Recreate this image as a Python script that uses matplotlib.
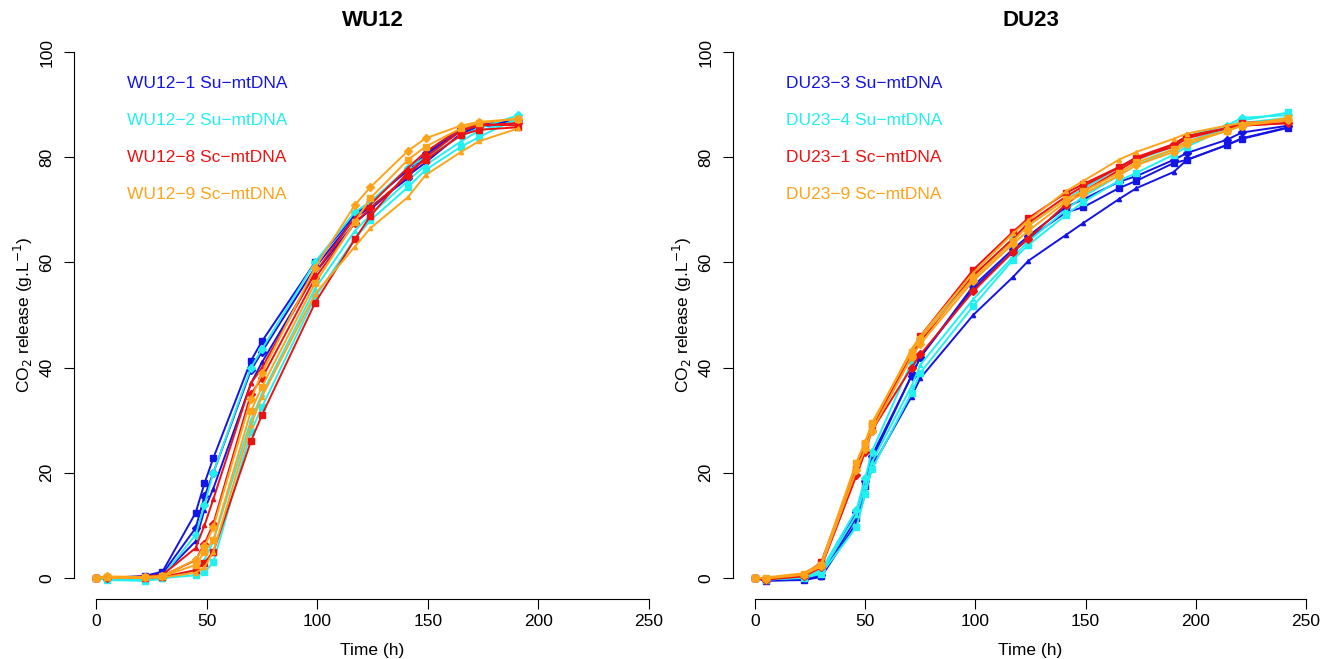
import numpy as np
import matplotlib.pyplot as plt

plt.rcParams['font.family'] = ['Liberation Sans', 'DejaVu Sans']

# sampling times (h)
t_wu12 = [0, 5, 22, 30, 45, 49, 53, 70, 75, 99, 117, 124, 141, 149, 165, 173, 191]
t_du23 = [0, 5, 22, 30, 46, 50, 53, 71, 75, 99, 117, 124, 141, 149, 165, 173,
          190, 196, 214, 221, 242]

# WU12 replicates (CO2 release, g/L)
wu12_1_a = [0.0, 0.0, 0.4, 1.2, 12.4, 18.0, 22.8, 41.3, 45.0, 60.0, 69.0, 71.5, 77.5, 80.5, 85.0, 86.0, 87.0]
wu12_1_b = [0.0, -0.1, 0.2, 0.8, 9.5, 15.5, 20.0, 39.5, 43.0, 59.0, 68.5, 70.5, 76.0, 80.8, 85.5, 86.2, 87.0]
wu12_1_c = [0.0, 0.0, 0.1, 0.5, 7.0, 13.0, 17.0, 37.0, 41.0, 58.0, 67.5, 70.0, 76.5, 79.0, 84.5, 85.8, 86.5]
wu12_2_a = [0.0, -0.3, -0.5, 0.0, 0.5, 1.1, 3.0, 27.8, 32.5, 53.4, 64.5, 68.0, 74.3, 77.6, 82.0, 83.8, 87.5]
wu12_2_b = [0.0, -0.2, -0.2, 0.3, 8.2, 13.9, 20.0, 40.0, 43.5, 60.0, 69.6, 71.5, 78.0, 80.0, 84.0, 85.5, 88.0]
wu12_2_c = [0.0, -0.4, -0.5, -0.2, 1.5, 3.5, 7.0, 30.0, 35.0, 55.0, 66.0, 69.0, 75.5, 78.5, 83.0, 85.0, 87.0]
wu12_8_a = [0.0, 0.1, 0.0, 0.2, 1.5, 2.9, 5.0, 26.0, 31.0, 52.3, 64.4, 68.8, 77.2, 79.5, 84.2, 85.2, 85.7]
wu12_8_b = [0.0, 0.0, 0.2, 0.4, 3.4, 6.5, 10.3, 35.0, 38.0, 57.0, 67.5, 70.3, 76.5, 80.0, 85.0, 86.0, 86.5]
wu12_8_c = [0.0, 0.0, 0.3, 0.6, 5.7, 10.0, 15.0, 37.0, 40.0, 58.0, 68.5, 71.0, 78.0, 81.0, 85.5, 86.3, 86.0]
wu12_9_a = [0.0, 0.2, 0.1, 0.3, 2.5, 5.0, 7.2, 31.7, 36.3, 56.0, 67.7, 72.2, 79.5, 82.0, 85.5, 86.5, 87.3]
wu12_9_b = [0.0, 0.3, 0.2, 0.4, 3.5, 6.0, 9.7, 34.0, 39.0, 59.0, 70.9, 74.3, 81.2, 83.6, 86.0, 86.7, 87.3]
wu12_9_c = [0.0, 0.0, 0.0, 0.1, 1.0, 2.0, 5.0, 29.0, 34.5, 54.0, 63.0, 66.5, 72.4, 76.6, 81.0, 83.0, 85.5]

# DU23 replicates
du23_3_a = [0, -0.5, -0.3, 0.3, 11.5, 17.5, 22.5, 38.5, 42.0, 55.0, 62.0, 64.5, 69.5, 70.5, 74.1, 75.5, 78.9, 79.5, 82.3, 83.5, 85.6]
du23_3_b = [0, -0.4, -0.2, 0.5, 12.5, 18.4, 23.2, 38.4, 42.0, 55.5, 62.5, 65.0, 70.5, 72.0, 75.3, 76.4, 79.5, 80.8, 83.3, 84.7, 86.0]
du23_3_c = [0, -0.5, -0.4, 0.2, 10.5, 16.0, 21.0, 34.5, 38.0, 50.0, 57.2, 60.3, 65.2, 67.5, 72.0, 74.1, 77.2, 79.5, 82.3, 83.6, 85.7]
du23_4_a = [0, -0.3, 0.0, 0.8, 9.7, 16.0, 20.7, 35.2, 39.0, 51.7, 60.5, 63.3, 69.0, 71.5, 75.5, 77.0, 80.5, 82.0, 85.5, 87.0, 88.5]
du23_4_b = [0, -0.2, 0.2, 1.5, 13.0, 19.0, 24.0, 41.0, 45.5, 57.5, 64.5, 67.0, 72.0, 74.0, 78.0, 79.5, 82.0, 84.0, 86.0, 87.5, 88.0]
du23_4_c = [0, -0.3, 0.1, 1.0, 12.0, 17.5, 22.0, 36.5, 40.5, 53.0, 61.0, 64.0, 70.0, 72.5, 76.5, 78.5, 81.5, 83.0, 85.5, 86.5, 87.5]
du23_1_a = [0, -0.2, 0.5, 3.0, 21.0, 25.5, 29.0, 42.5, 46.0, 58.6, 65.8, 68.4, 73.2, 74.9, 78.1, 79.8, 82.0, 83.6, 85.5, 86.5, 87.0]
du23_1_b = [0, -0.3, 0.3, 2.0, 19.5, 24.0, 28.0, 40.0, 42.5, 54.5, 62.0, 64.5, 71.0, 73.5, 77.5, 79.5, 82.5, 84.0, 85.5, 86.0, 86.5]
du23_1_c = [0, -0.2, 0.6, 2.5, 20.0, 25.0, 28.5, 42.0, 45.0, 57.5, 64.5, 67.5, 72.5, 74.5, 78.0, 80.0, 82.5, 84.0, 85.5, 86.0, 86.5]
du23_9_a = [0, 0.0, 0.8, 2.5, 21.9, 25.7, 29.5, 43.0, 45.5, 57.0, 64.0, 67.0, 72.0, 73.5, 77.0, 79.0, 81.5, 83.0, 85.0, 86.0, 87.5]
du23_9_b = [0, -0.1, 0.6, 2.2, 20.5, 24.5, 28.0, 42.0, 44.5, 56.5, 63.5, 66.0, 71.5, 73.0, 76.5, 78.5, 81.0, 82.5, 85.0, 86.0, 87.0]
du23_9_c = [0, 0.1, 0.9, 2.8, 22.0, 26.0, 29.0, 43.5, 46.0, 58.0, 65.5, 68.0, 73.5, 75.5, 79.5, 81.0, 83.5, 84.5, 86.0, 86.5, 87.0]

wu12_labels = ['WU12\u22121 Su\u2212mtDNA', 'WU12\u22122 Su\u2212mtDNA',
               'WU12\u22128 Sc\u2212mtDNA', 'WU12\u22129 Sc\u2212mtDNA']
du23_labels = ['DU23\u22123 Su\u2212mtDNA', 'DU23\u22124 Su\u2212mtDNA',
               'DU23\u22121 Sc\u2212mtDNA', 'DU23\u22129 Sc\u2212mtDNA']
colors = ['#1414E6', '#22F0F0', '#EE1111', '#FFA31A']
markers = [('s', 5), ('D', 4.5), ('^', 3)]

panels = [
    ('WU12', t_wu12, wu12_labels,
     [[wu12_1_a, wu12_1_b, wu12_1_c], [wu12_2_a, wu12_2_b, wu12_2_c],
      [wu12_8_a, wu12_8_b, wu12_8_c], [wu12_9_a, wu12_9_b, wu12_9_c]]),
    ('DU23', t_du23, du23_labels,
     [[du23_3_a, du23_3_b, du23_3_c], [du23_4_a, du23_4_b, du23_4_c],
      [du23_1_a, du23_1_b, du23_1_c], [du23_9_a, du23_9_b, du23_9_c]]),
]

fig = plt.figure(figsize=(13.34, 6.59), dpi=100)
axes_pos = [[0.0555, 0.091, 0.4475, 0.862], [0.5495, 0.091, 0.446, 0.862]]

for pos, (title, t, labels, groups) in zip(axes_pos, panels):
    ax = fig.add_axes(pos)
    for col, reps in zip(colors, groups):
        for (mk, ms), y in zip(markers, reps):
            ax.plot(t, y, color=col, lw=1.4, marker=mk, ms=ms, mec=col, mfc=col)
    for i, (lab, col) in enumerate(zip(labels, colors)):
        ax.text(14, 94.1 - 7.05 * i, lab, color=col, fontsize=12.5, va='center', ha='left')

    ax.set_xlim(-10, 260)
    ax.set_ylim(-4, 104)
    ax.set_xticks([0, 50, 100, 150, 200, 250])
    ax.set_yticks([0, 20, 40, 60, 80, 100])
    for s in ['top', 'right']:
        ax.spines[s].set_visible(False)
    ax.spines['bottom'].set_bounds(0, 250)
    ax.spines['left'].set_bounds(0, 100)
    ax.tick_params(direction='out', length=7, labelsize=12.5)
    ax.tick_params(axis='y', pad=7)
    plt.setp(ax.get_yticklabels(), rotation=90, va='center')
    ax.set_title(title, fontsize=16, fontweight='bold', pad=0)
    ax.set_xlabel('Time (h)', fontsize=12.5, labelpad=10)
    ax.set_ylabel('CO$_2$ release (g.L$^{-1}$)', fontsize=12.5, labelpad=3)

fig.savefig('out.png', dpi=100)
